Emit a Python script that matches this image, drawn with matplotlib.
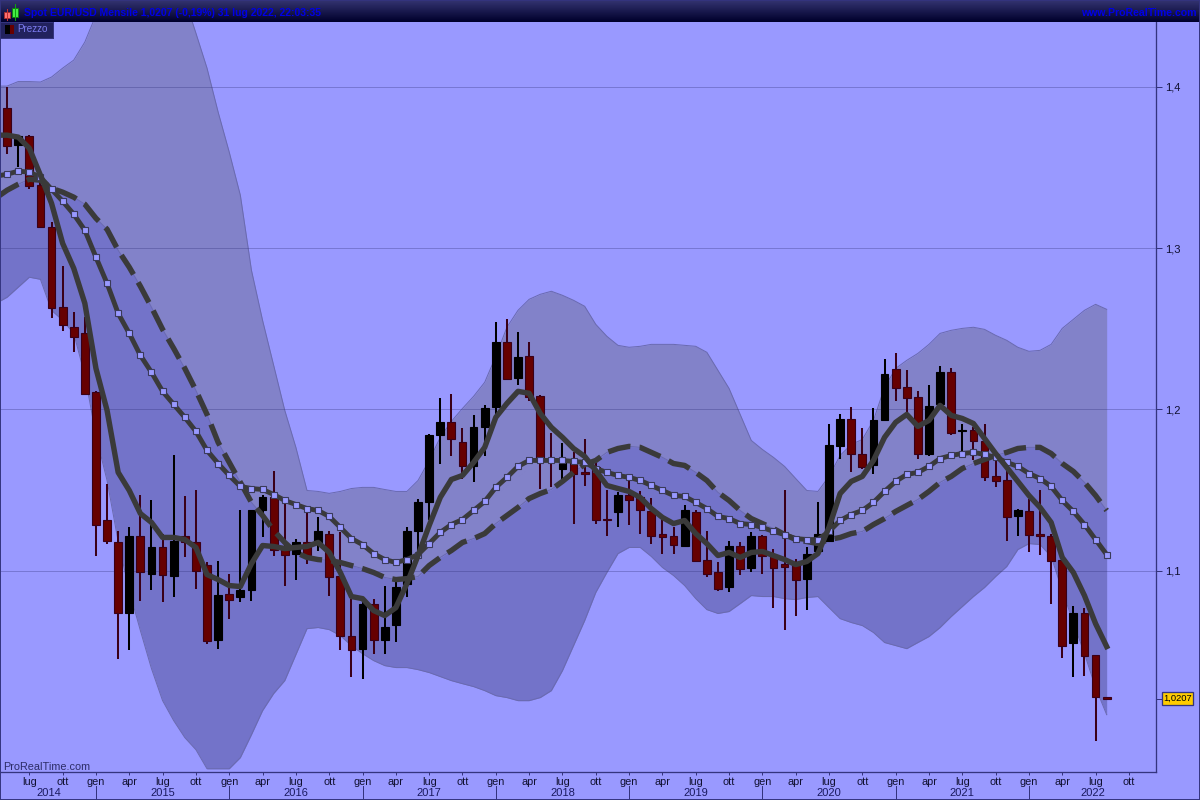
import numpy as np
import matplotlib
matplotlib.use("Agg")
import matplotlib.pyplot as plt
from matplotlib.patches import Rectangle
from matplotlib.transforms import blended_transform_factory

plt.rcParams['font.family'] = ['Liberation Sans', 'DejaVu Sans']

# monthly candles, may 2014 -> aug 2022
opens = [1.3866,1.3637,1.3693,1.3389,1.3129,1.2633,1.2509,1.2471,1.2106,1.1312,
         1.1176,1.0742,1.1213,1.0983,1.1145,1.0971,1.1213,1.1176,1.1039,1.0574,
         1.0859,1.0835,1.0884,1.1380,1.1455,1.1157,1.1107,1.1176,1.1169,1.1231,
         1.0971,1.0599,1.0518,1.0797,1.0574,1.0667,1.0921,1.1244,1.1424,1.1839,
         1.1920,1.1796,1.1647,1.1889,1.2013,1.2416,1.2192,1.2329,1.2081,1.1696,
         1.1634,1.1684,1.1610,1.1641,1.1324,1.1362,1.1467,1.1455,1.1368,1.1231,
         1.1213,1.1157,1.1362,1.1070,1.0996,1.0897,1.1151,1.1020,1.1213,1.1095,
         1.1045,1.1052,1.0952,1.1120,1.1182,1.1771,1.1938,1.1727,1.1653,1.1932,
         1.2248,1.2137,1.2075,1.1727,1.2031,1.2230,1.1864,1.1870,1.1802,1.1585,
         1.1560,1.1337,1.1368,1.1231,1.1219,1.1070,1.0556,1.0736,1.0481,1.0221]
highs = [1.3997,1.3699,1.3699,1.3432,1.3160,1.2887,1.2602,1.2571,1.2112,1.1535,
         1.1244,1.1269,1.1467,1.1436,1.1231,1.1715,1.1461,1.1498,1.1052,1.1058,
         1.0983,1.1380,1.1380,1.1467,1.1616,1.1417,1.1200,1.1386,1.1331,1.1244,
         1.1238,1.0828,1.0816,1.0828,1.0909,1.0928,1.1269,1.1448,1.1845,1.2068,
         1.2093,1.1882,1.1963,1.2025,1.2540,1.2558,1.2478,1.2416,1.2087,1.1851,
         1.1789,1.1734,1.1814,1.1684,1.1498,1.1486,1.1560,1.1492,1.1449,1.1324,
         1.1269,1.1411,1.1374,1.1250,1.1052,1.1182,1.1176,1.1238,1.1225,1.1138,
         1.1498,1.1076,1.1145,1.1424,1.1907,1.1969,1.2013,1.1882,1.2006,1.2310,
         1.2347,1.2242,1.2112,1.2149,1.2267,1.2254,1.1907,1.1889,1.1907,1.1684,
         1.1622,1.1386,1.1448,1.1498,1.1231,1.1070,1.0785,1.0772,1.0481,1.0221]
lows = [1.3581,1.3501,1.3364,1.3128,1.2564,1.2484,1.2354,1.2093,1.1095,1.1169,
        1.0456,1.0512,1.0816,1.0884,1.0804,1.0841,1.1083,1.0890,1.0549,1.0518,
        1.0704,1.0810,1.0816,1.1207,1.1095,1.0909,1.0946,1.1045,1.1120,1.0847,
        1.0512,1.0345,1.0332,1.0487,1.0487,1.0562,1.0835,1.1114,1.1312,1.1659,
        1.1709,1.1572,1.1548,1.1709,1.1963,1.2180,1.2149,1.2050,1.1504,1.1517,
        1.1572,1.1293,1.1523,1.1293,1.1213,1.1269,1.1287,1.1231,1.1169,1.1107,
        1.1107,1.1151,1.1052,1.0959,1.0878,1.0872,1.0977,1.0996,1.0983,1.0772,
        1.0636,1.0723,1.0760,1.1120,1.1182,1.1690,1.1610,1.1634,1.1597,1.1926,
        1.2050,1.1969,1.1696,1.1709,1.2031,1.1839,1.1734,1.1684,1.1554,1.1517,
        1.1182,1.1219,1.1114,1.1101,1.0797,1.0463,1.0345,1.0351,0.9948,1.0207]
closes = [1.3631,1.3693,1.3383,1.3129,1.2626,1.2521,1.2447,1.2093,1.1281,1.1188,
          1.0736,1.1213,1.0990,1.1145,1.0977,1.1188,1.1176,1.1002,1.0568,1.0853,
          1.0822,1.0884,1.1380,1.1455,1.1132,1.1101,1.1176,1.1101,1.1244,1.0965,
          1.0599,1.0512,1.0797,1.0574,1.0655,1.0897,1.1244,1.1424,1.1839,1.1920,
          1.1814,1.1647,1.1889,1.2006,1.2416,1.2186,1.2323,1.2075,1.1690,1.1678,
          1.1696,1.1603,1.1597,1.1318,1.1312,1.1467,1.1442,1.1374,1.1219,1.1207,
          1.1163,1.1374,1.1064,1.0983,1.0890,1.1151,1.1014,1.1213,1.1089,1.1020,
          1.1027,1.0946,1.1107,1.1231,1.1777,1.1938,1.1721,1.1641,1.1932,1.2217,
          1.2130,1.2068,1.1721,1.2019,1.2230,1.1851,1.1870,1.1802,1.1579,1.1554,
          1.1331,1.1380,1.1225,1.1213,1.1064,1.0537,1.0736,1.0475,1.0221,1.0207]

# indicators, first value is the month just before the left edge
ma_fast = [1.3699,1.3699,1.3687,1.3618,1.3451,1.3277,1.3029,1.2874,1.2657,1.2254,1.1994,
           1.1610,1.1498,1.1355,1.1300,1.1207,1.1207,1.1194,1.1145,1.0977,1.0946,
           1.0909,1.0903,1.1045,1.1157,1.1151,1.1138,1.1145,1.1151,1.1176,1.1114,
           1.0990,1.0841,1.0828,1.0754,1.0723,1.0772,1.0921,1.1095,1.1281,1.1455,
           1.1566,1.1591,1.1672,1.1765,1.1951,1.2037,1.2112,1.2100,1.1975,1.1889,
           1.1827,1.1758,1.1709,1.1622,1.1529,1.1510,1.1492,1.1455,1.1386,1.1331,
           1.1293,1.1312,1.1231,1.1169,1.1095,1.1114,1.1083,1.1114,1.1120,1.1095,
           1.1070,1.1039,1.1058,1.1107,1.1269,1.1479,1.1554,1.1585,1.1684,1.1827,
           1.1920,1.1969,1.1895,1.1932,1.2025,1.1963,1.1944,1.1913,1.1820,1.1727,
           1.1641,1.1554,1.1467,1.1393,1.1300,1.1083,1.0990,1.0847,1.0673,1.0531]
ma_mid = [1.3445,1.3457,1.3476,1.3470,1.3439,1.3364,1.3290,1.3209,1.3110,1.2943,1.2781,
          1.2595,1.2471,1.2335,1.2230,1.2112,1.2031,1.1951,1.1864,1.1746,1.1665,
          1.1591,1.1523,1.1510,1.1504,1.1473,1.1436,1.1411,1.1386,1.1374,1.1337,
          1.1269,1.1200,1.1163,1.1107,1.1070,1.1052,1.1070,1.1101,1.1169,1.1238,
          1.1287,1.1318,1.1374,1.1430,1.1517,1.1579,1.1647,1.1684,1.1684,1.1684,
          1.1684,1.1678,1.1672,1.1634,1.1610,1.1591,1.1579,1.1560,1.1529,1.1498,
          1.1467,1.1461,1.1424,1.1386,1.1337,1.1324,1.1293,1.1287,1.1269,1.1244,
          1.1225,1.1200,1.1194,1.1194,1.1244,1.1312,1.1349,1.1374,1.1424,1.1492,
          1.1554,1.1597,1.1610,1.1647,1.1696,1.1715,1.1727,1.1734,1.1721,1.1703,
          1.1672,1.1647,1.1603,1.1572,1.1523,1.1436,1.1368,1.1287,1.1194,1.1101]
ma_slow = [1.3310,1.3358,1.3395,1.3426,1.3420,1.3370,1.3346,1.3315,1.3271,1.3184,1.3116,
           1.2986,1.2881,1.2763,1.2633,1.2496,1.2378,1.2254,1.2118,1.1969,1.1796,
           1.1672,1.1548,1.1424,1.1343,1.1250,1.1176,1.1114,1.1083,1.1070,1.1064,
           1.1052,1.1033,1.1014,1.0990,1.0959,1.0946,1.0952,1.0965,1.1033,1.1083,
           1.1126,1.1176,1.1200,1.1231,1.1293,1.1343,1.1393,1.1448,1.1479,1.1504,
           1.1554,1.1610,1.1659,1.1684,1.1734,1.1758,1.1771,1.1765,1.1734,1.1703,
           1.1665,1.1653,1.1610,1.1560,1.1486,1.1436,1.1374,1.1324,1.1293,1.1262,
           1.1225,1.1194,1.1182,1.1169,1.1194,1.1207,1.1231,1.1244,1.1287,1.1324,
           1.1368,1.1405,1.1442,1.1492,1.1548,1.1585,1.1634,1.1665,1.1690,1.1715,
           1.1734,1.1758,1.1765,1.1765,1.1727,1.1665,1.1616,1.1548,1.1467,1.1374]
band_up = [1.4003,1.4003,1.4031,1.4031,1.4028,1.4059,1.4114,1.4164,1.4276,1.4443,1.4672,
           1.4790,1.4883,1.4896,1.4871,1.4796,1.4685,1.4542,1.4331,1.4114,1.3842,
           1.3594,1.3327,1.2862,1.2552,1.2273,1.1994,1.1765,1.1498,1.1492,1.1480,
           1.1492,1.1510,1.1517,1.1517,1.1504,1.1492,1.1492,1.1560,1.1684,1.1827,
           1.1926,1.2006,1.2081,1.2168,1.2329,1.2509,1.2614,1.2682,1.2713,1.2732,
           1.2707,1.2676,1.2639,1.2527,1.2453,1.2397,1.2385,1.2391,1.2403,1.2403,
           1.2403,1.2397,1.2391,1.2354,1.2242,1.2130,1.1969,1.1808,1.1752,1.1703,
           1.1647,1.1572,1.1498,1.1492,1.1585,1.1715,1.1783,1.1814,1.1932,1.2137,
           1.2254,1.2304,1.2347,1.2403,1.2471,1.2490,1.2502,1.2509,1.2496,1.2459,
           1.2428,1.2385,1.2360,1.2366,1.2403,1.2502,1.2558,1.2614,1.2651,1.2620]
band_dn = [1.2657,1.2695,1.2757,1.2819,1.2806,1.2614,1.2552,1.2471,1.2211,1.1839,1.1560,
           1.1182,1.0878,1.0630,1.0394,1.0196,1.0072,0.9967,0.9892,0.9774,0.9774,
           0.9774,0.9843,0.9985,1.0134,1.0240,1.0320,1.0481,1.0642,1.0649,1.0636,
           1.0599,1.0537,1.0487,1.0444,1.0413,1.0401,1.0401,1.0388,1.0370,1.0345,
           1.0320,1.0301,1.0283,1.0258,1.0227,1.0215,1.0196,1.0196,1.0215,1.0258,
           1.0382,1.0537,1.0692,1.0866,1.0990,1.1107,1.1145,1.1145,1.1089,1.1021,
           1.0971,1.0909,1.0828,1.0760,1.0736,1.0748,1.0797,1.0847,1.0841,1.0841,
           1.0828,1.0822,1.0835,1.0841,1.0772,1.0704,1.0680,1.0661,1.0618,1.0556,
           1.0537,1.0518,1.0556,1.0593,1.0649,1.0717,1.0779,1.0841,1.0897,1.0965,
           1.1027,1.1132,1.1169,1.1163,1.1089,1.0878,1.0680,1.0487,1.0277,1.0109]

price_ticks = [1.1, 1.2, 1.3, 1.4]
price_labels = ['1,1', '1,2', '1,3', '1,4']
month_names = ['lug', 'ott', 'gen', 'apr']
month_ticks = list(range(2, 102, 3))
month_labels = [month_names[k % 4] for k in range(len(month_ticks))]
years = ['2014', '2015', '2016', '2017', '2018', '2019', '2020', '2021', '2022']
year_starts = [8, 20, 32, 44, 56, 68, 80, 92]
last_price = 1.0207

BG = '#9999ff'
EDGE = '#34347e'
DARK = '#3a3a3a'
ONE_PX = 0.72

fig = plt.figure(figsize=(12, 8), dpi=100, facecolor=BG)

# chart area, x 1..1156 and y 22..772 in pixels
ax = fig.add_axes([1/1200, 28/800, 1155/1200, 750/800], facecolor=BG)
x = np.arange(len(opens))
ma_x = np.arange(-1, len(opens))
x_min, x_max = -0.549, 103.44
ax.set_xlim(x_min, x_max)
ax.set_ylim(0.9754, 1.44)

# bollinger bands, two tones split on the slow average
ax.fill_between(ma_x, ma_slow, band_up, color='#8282c9', lw=0, zorder=1)
ax.fill_between(ma_x, band_dn, ma_slow, color='#7373c9', lw=0, zorder=1)
ax.plot(ma_x, band_up, color='#6a6ab0', lw=ONE_PX, zorder=1.2)
ax.plot(ma_x, band_dn, color='#6a6ab0', lw=ONE_PX, zorder=1.2)
ax.plot(ma_x, ma_slow, color='#6a6ab0', lw=ONE_PX, zorder=1.2)

for p in price_ticks:
    ax.axhline(p, color='#30307a', alpha=0.32, lw=ONE_PX, zorder=1.5)

# candles
wick_cols = ['#3a0018' if c < o else 'black' for o, c in zip(opens, closes)]
body_cols = ['#660000' if c < o else 'black' for o, c in zip(opens, closes)]
ax.vlines(x, lows, highs, colors=wick_cols, lw=1.45, zorder=2)
bottoms = np.minimum(opens, closes)
heights = np.abs(np.array(closes) - np.array(opens))
ax.bar(x, heights, bottom=bottoms, width=0.7, color=body_cols,
       edgecolor=wick_cols, linewidth=0.8, zorder=3)

# moving averages
ax.plot(ma_x, ma_slow, color=DARK, lw=3.9, ls=(0, (4.2, 1.7)),
        dash_capstyle='butt', zorder=4)
ax.plot(ma_x, ma_mid, color=DARK, lw=3.5, marker='s', ms=4.4, mfc=BG, mec='#3a3a5a',
        mew=0.8, markevery=list(range(1, len(ma_x))), zorder=5)
ax.plot(ma_x, ma_fast, color=DARK, lw=3.9, solid_joinstyle='round', zorder=6)

# right axis
ax.yaxis.tick_right()
ax.set_yticks(price_ticks, price_labels, fontsize=8, color='#101030')
ax.tick_params(axis='y', length=4, width=ONE_PX, color=EDGE, pad=2.5)

# bottom axis
ax.set_xticks(month_ticks, month_labels, fontsize=7.8, color='#101030')
ax.tick_params(axis='x', length=2.5, width=ONE_PX, color=EDGE, pad=1)
for s in ['top', 'left']:
    ax.spines[s].set_visible(False)
for s in ['right', 'bottom']:
    ax.spines[s].set_color(EDGE)
    ax.spines[s].set_linewidth(ONE_PX * 1.3)

trans = blended_transform_factory(ax.transData, fig.transFigure)
edges = [x_min] + year_starts + [x_max]
for k, yr in enumerate(years):
    ax.text((edges[k] + edges[k + 1]) / 2, 6.5/800, yr, transform=trans, ha='center', va='center',
            fontsize=8, color='#1a1a60', clip_on=False)
for s in year_starts:
    ax.plot([s, s], [0, 14/800], transform=trans, color=EDGE, lw=ONE_PX, clip_on=False)

# last price tag
ax.plot([x_max, x_max + 0.45], [last_price, last_price], color=EDGE, lw=ONE_PX, clip_on=False)
fig.add_artist(Rectangle((1162/1200, 1 - 704.5/800), 30.5/1200, 13/800, transform=fig.transFigure,
                         fc='#ffcc00', ec=EDGE, lw=ONE_PX * 1.3))
fig.text(1177.3/1200, 1 - 698/800, '1,0207', ha='center', va='center', fontsize=6.7, color='black')

fig.text(3/1200, 1 - 767/800, 'ProRealTime.com', ha='left', va='center', fontsize=7.8,
         color='#2c2c66', zorder=10)

# title bar with gradient
bar = fig.add_axes([0, 1 - 22/800, 1, 22/800])
grad = np.linspace(0, 1, 22).reshape(-1, 1)
top = np.array([0x33, 0x33, 0x70]) / 255
bot = np.array([0x00, 0x00, 0x2c]) / 255
bar.imshow((top + (bot - top) * grad[..., None]), aspect='auto', extent=[0, 1200, 22, 0])
bar.axhline(21.5, color=EDGE, lw=ONE_PX)
bar.set_xlim(0, 1200)
bar.set_ylim(22, 0)
bar.axis('off')
bar.text(24, 12.5, 'Spot EUR/USD Mensile 1,0207 (-0,19%) 31 lug 2022, 22:03:35', color='#0000e6',
         fontsize=7.45, fontweight='bold', va='center', ha='left')
bar.text(1197, 12.5, 'www.ProRealTime.com', color='#0000e6', fontsize=7.6, fontweight='bold',
         va='center', ha='right')
# small candle icon
bar.plot([6.5, 6.5], [9, 20], color='#c03030', lw=ONE_PX)
bar.add_patch(Rectangle((3.5, 11.5), 6, 6, fc='#ff7070', ec='#a03030', lw=0.7))
bar.plot([14.5, 14.5], [4, 20], color='#10a010', lw=ONE_PX)
bar.add_patch(Rectangle((11.5, 7.5), 6, 9, fc='#44ee44', ec='#108010', lw=0.7))

# legend box
leg = fig.add_axes([0, 1 - 37.5/800, 52.5/1200, 15.5/800], facecolor='#22225e')
leg.set_xlim(0, 52.5)
leg.set_ylim(15.5, 0)
leg.set_xticks([])
leg.set_yticks([])
for s in leg.spines.values():
    s.set_color(EDGE)
    s.set_linewidth(ONE_PX)
leg.add_patch(Rectangle((5, 3), 4.5, 9, fc='black', lw=0))
leg.add_patch(Rectangle((9.5, 3), 4.5, 9, fc='#660000', lw=0))
leg.text(17.5, 7.5, 'Prezzo', color='#7c7cf0', fontsize=7.1, va='center', ha='left')

# outer frame
fig.add_artist(Rectangle((0, 0), 1, 1, transform=fig.transFigure, fc='none', ec=EDGE, lw=1.4))

fig.savefig('out.png', dpi=100, facecolor=BG)
